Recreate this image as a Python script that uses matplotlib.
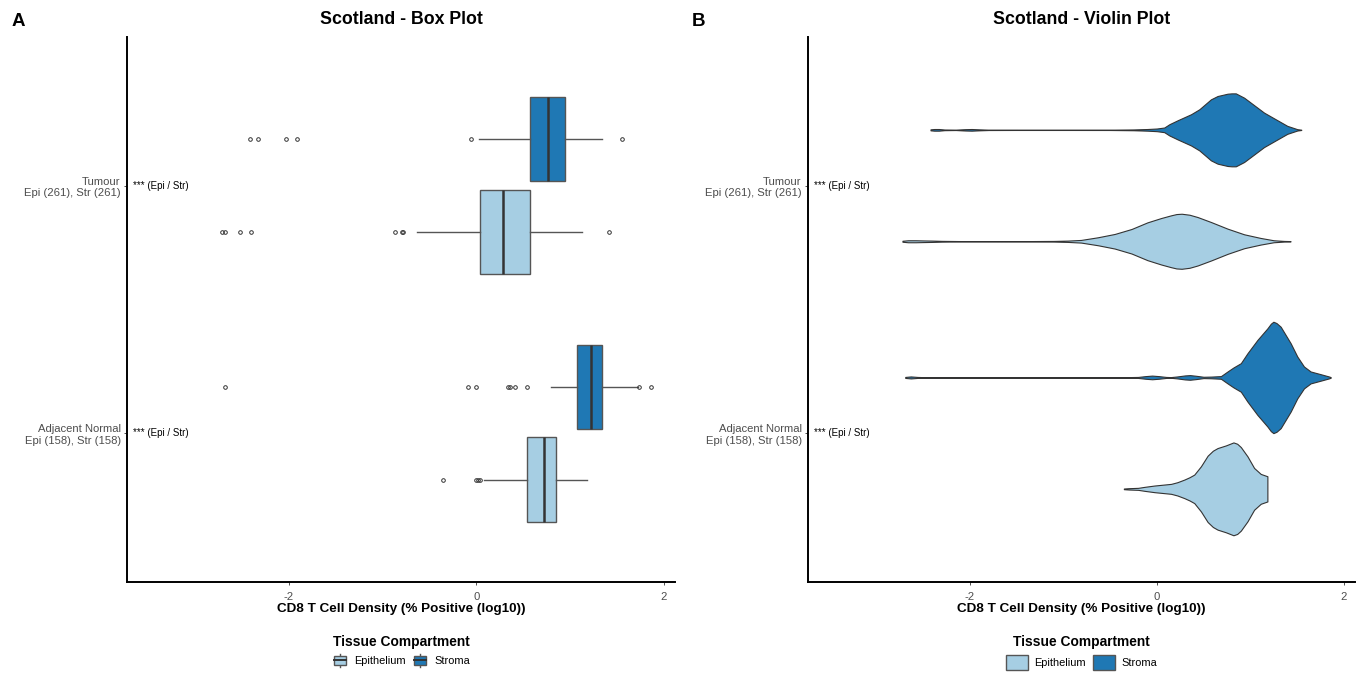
import numpy as np
import matplotlib
matplotlib.use("Agg")
import matplotlib.pyplot as plt
from matplotlib.patches import Patch, Rectangle
from matplotlib.lines import Line2D
from matplotlib.legend_handler import HandlerBase

plt.rcParams['font.family'] = ['Liberation Sans', 'DejaVu Sans']

# --- data ------------------------------------------------------------------
categories = ["Adjacent Normal", "Tumour"]
tick_labels = ["Adjacent Normal\nEpi (158), Str (158)", "Tumour\nEpi (261), Str (261)"]
compartments = ["Epithelium", "Stroma"]
sig_labels = ["*** (Epi / Str)", "*** (Epi / Str)"]

# box statistics (log10 % positive), order = categories
epi_q1 = [0.54, 0.036]
epi_med = [0.72, 0.285]
epi_q3 = [0.854, 0.577]
epi_lo = [0.08, -0.63]
epi_hi = [1.185, 1.13]
epi_fliers = [[-0.356, 0.0, 0.02, 0.04],
              [-2.72, -2.68, -2.52, -2.41, -0.87, -0.79, -0.78, 1.42]]

str_q1 = [1.078, 0.57]
str_med = [1.228, 0.765]
str_q3 = [1.345, 0.95]
str_lo = [0.80, 0.025]
str_hi = [1.72, 1.345]
str_fliers = [[-2.68, -0.085, 0.0, 0.338, 0.363, 0.41, 0.545, 1.74, 1.86],
              [-2.42, -2.33, -2.035, -1.92, -0.06, 1.55]]

# violin density profiles (value grid, relative density)
adj_epi_x = [-0.352, -0.3, -0.2, -0.131, -0.025, 0.046, 0.153, 0.22, 0.295, 0.35, 0.401,
             0.472, 0.544, 0.6, 0.65, 0.739, 0.82, 0.86, 0.899, 0.97, 1.041, 1.112, 1.183]
adj_epi_d = [1, 2, 3, 6, 10, 12, 15, 20, 28, 35, 43, 68, 100, 115, 123, 131, 140, 136,
             126, 98, 63, 45, 38]

adj_str_x = [-2.69, -2.63, -2.56, -2.45, -2.0, -1.0, -0.4, -0.2, -0.12, -0.05, 0.02, 0.1,
             0.15, 0.22, 0.3, 0.355, 0.42, 0.5, 0.58, 0.686, 0.757, 0.82, 0.899, 0.97,
             1.076, 1.183, 1.22, 1.247, 1.28, 1.325, 1.432, 1.503, 1.574, 1.645, 1.75, 1.84, 1.86]
adj_str_d = [1.5, 3, 1.5, 0.5, 0.3, 0.3, 0.5, 1.5, 4, 5.5, 4, 1.5, 1, 3, 6, 7, 5, 2, 2.5, 4,
             18, 30, 43, 73, 113, 148, 162, 168, 164, 153, 103, 63, 33, 18, 10, 3, 1]

tum_epi_x = [-2.72, -2.66, -2.58, -2.5, -2.4, -2.3, -2.1, -1.8, -1.4, -1.1, -0.95, -0.81,
             -0.63, -0.45, -0.27, -0.1, 0.046, 0.15, 0.21, 0.266, 0.35, 0.437, 0.58, 0.757,
             0.934, 1.11, 1.25, 1.36, 1.43]
tum_epi_d = [1.5, 3, 3, 2.5, 2, 1.2, 0.6, 0.4, 0.5, 1, 2, 4, 12, 22, 37, 57, 70, 78, 82, 83,
             80, 73, 58, 38, 21, 10, 3, 1, 0.5]

tum_str_x = [-2.42, -2.38, -2.33, -2.27, -2.15, -2.05, -1.98, -1.9, -1.8, -1.5, -1.0, -0.5,
             -0.25, -0.1, 0.0, 0.08, 0.135, 0.224, 0.366, 0.455, 0.579, 0.65, 0.757, 0.8,
             0.845, 0.934, 1.005, 1.147, 1.29, 1.396, 1.503, 1.545]
tum_str_d = [1.5, 2.5, 2.5, 1.0, 0.6, 2.0, 2.5, 1.5, 0.6, 0.4, 0.4, 0.5, 1.2, 2.5, 4, 7,
             17, 29, 47, 62, 92, 102, 109, 110, 110, 97, 82, 52, 29, 12, 2, 0.5]

# --- styling ---------------------------------------------------------------
col_epi = "#A6CEE3"
col_str = "#1F78B4"
grey_txt = "#4D4D4D"
xlim = (-3.73, 2.12)
ylim = (0.4, 2.6)
W, H = 1359, 673

fig = plt.figure(figsize=(W / 100, H / 100), dpi=100)
ax1 = fig.add_axes([127 / W, 1 - 581.7 / H, (675 - 127) / W, (581.7 - 37) / H])
ax2 = fig.add_axes([808 / W, 1 - 581.7 / H, (1355 - 808) / W, (581.7 - 37) / H])

pos = np.arange(1, len(categories) + 1)


class BoxKey(HandlerBase):
    # ggplot-style boxplot legend key
    def create_artists(self, legend, orig_handle, xdescent, ydescent, width, height, fontsize, trans):
        x0, y0 = -xdescent, -ydescent
        cx = x0 + width / 2
        wl = Line2D([cx, cx], [y0 - 0.1 * height, y0 + 1.1 * height], color="#555555", lw=1)
        box = Rectangle((x0 + 0.1 * width, y0 + 0.12 * height), 0.8 * width, 0.76 * height,
                        facecolor=orig_handle.get_facecolor(), edgecolor="#555555", lw=1.0)
        med = Line2D([x0 + 0.1 * width, x0 + 0.9 * width], [y0 + height / 2] * 2, color="#333333", lw=1.4)
        arts = [wl, box, med]
        for a in arts:
            a.set_transform(trans)
        return arts


def style_axes(ax, title):
    ax.set_xlim(*xlim)
    ax.set_ylim(*ylim)
    for s in ["top", "right"]:
        ax.spines[s].set_visible(False)
    for s in ["left", "bottom"]:
        ax.spines[s].set_linewidth(1.4)
        ax.spines[s].set_color("black")
    ax.set_xticks([-2, 0, 2])
    ax.set_xticklabels(["-2", "0", "2"])
    ax.set_yticks(pos)
    ax.set_yticklabels(tick_labels)
    ax.tick_params(axis="both", colors="#333333", labelcolor=grey_txt, labelsize=8.1, length=2.5,
                   width=0.6, pad=2)
    ax.tick_params(axis="x", pad=5)
    ax.set_xlabel("CD8 T Cell Density (% Positive (log10))", fontsize=9.7, fontweight="bold")
    ax.xaxis.set_label_coords(0.5, -0.05)
    ax.xaxis.label.set_va("center")
    ax.text(0.5, 1.033, title, transform=ax.transAxes, ha="center", va="center",
            fontsize=12.8, fontweight="bold")
    for p, s in zip(pos, sig_labels):
        ax.text(0.011, p, s, transform=ax.get_yaxis_transform(), ha="left", va="center", fontsize=7.0)


# --- panel A: box plot -----------------------------------------------------
def stats(q1, med, q3, lo, hi, fl):
    return [dict(q1=q1[i], med=med[i], q3=q3[i], whislo=lo[i], whishi=hi[i], fliers=fl[i])
            for i in range(len(q1))]


flier = dict(marker="o", markersize=2.6, markerfacecolor="none", markeredgecolor="#333333", markeredgewidth=0.7)
for st, off, col in [(stats(epi_q1, epi_med, epi_q3, epi_lo, epi_hi, epi_fliers), -0.1875, col_epi),
                     (stats(str_q1, str_med, str_q3, str_lo, str_hi, str_fliers), 0.1875, col_str)]:
    ax1.bxp(st, positions=pos + off, widths=0.34, orientation="horizontal", patch_artist=True,
            showcaps=False, manage_ticks=False,
            boxprops=dict(facecolor=col, edgecolor="#555555", linewidth=1.0),
            medianprops=dict(color="#333333", linewidth=1.8),
            whiskerprops=dict(color="#555555", linewidth=1.0),
            flierprops=flier)

style_axes(ax1, "Scotland - Box Plot")

# --- panel B: violin plot --------------------------------------------------
vio = [(adj_epi_x, adj_epi_d, epi_med[0], pos[0] - 0.225, col_epi),
       (adj_str_x, adj_str_d, str_med[0], pos[0] + 0.225, col_str),
       (tum_epi_x, tum_epi_d, epi_med[1], pos[1] - 0.225, col_epi),
       (tum_str_x, tum_str_d, str_med[1], pos[1] + 0.225, col_str)]
gmax = max(max(v[1]) for v in vio)
for xs, ds, med, p, col in vio:
    vp = [dict(coords=np.array(xs), vals=np.array(ds, dtype=float), mean=med, median=med,
               min=xs[0], max=xs[-1])]
    parts = ax2.violin(vp, positions=[p], widths=[0.45 * max(ds) / gmax], orientation="horizontal",
                       showmeans=False, showextrema=False, showmedians=False)
    for b in parts["bodies"]:
        b.set_facecolor(col)
        b.set_edgecolor("#333333")
        b.set_linewidth(0.8)
        b.set_alpha(1)

style_axes(ax2, "Scotland - Violin Plot")

# --- legends ---------------------------------------------------------------
handles = [Patch(facecolor=col_epi, edgecolor="#555555"), Patch(facecolor=col_str, edgecolor="#555555")]
ax1.legend(handles, compartments, loc="upper center", bbox_to_anchor=(0.5, -0.08), ncol=2,
           frameon=False, title="Tissue Compartment", fontsize=7.9, handlelength=1.4,
           handleheight=1.2, columnspacing=0.6, handletextpad=0.6,
           handler_map={Patch: BoxKey()},
           title_fontproperties=dict(weight="bold", size=9.9))
handles2 = [Patch(facecolor=col_epi, edgecolor="#555555", lw=1.0), Patch(facecolor=col_str, edgecolor="#555555", lw=1.0)]
ax2.legend(handles2, compartments, loc="upper center", bbox_to_anchor=(0.5, -0.08), ncol=2,
           frameon=False, title="Tissue Compartment", fontsize=7.9, handlelength=2.0,
           handleheight=1.8, columnspacing=0.6, handletextpad=0.6,
           title_fontproperties=dict(weight="bold", size=9.9))

fig.text(12 / W, 1 - 22 / H, "A", fontsize=13.5, fontweight="bold", va="center", ha="left")
fig.text(692 / W, 1 - 22 / H, "B", fontsize=13.5, fontweight="bold", va="center", ha="left")

fig.savefig("out.png", dpi=100)
